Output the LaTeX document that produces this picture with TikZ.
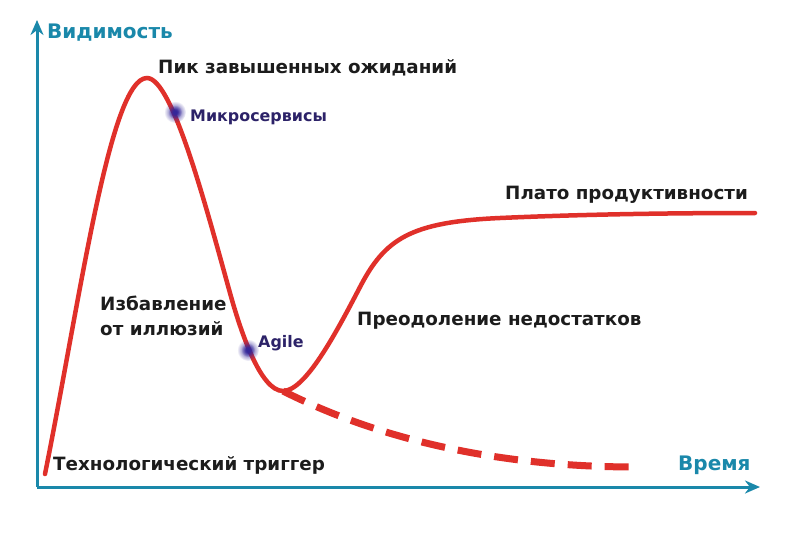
\documentclass[tikz,border=0pt]{standalone}
\usepackage{fontspec}
\setmainfont{DejaVu Sans}
\usetikzlibrary{arrows.meta,fadings}
\definecolor{axisc}{HTML}{1A88AA}
\definecolor{curvec}{HTML}{E0302A}
\definecolor{navy}{HTML}{2C2268}
\definecolor{dotc}{HTML}{34279A}
\definecolor{txt}{HTML}{1C1C1C}
\tikzfading[name=softdot, inner color=transparent!0, outer color=transparent!100]
\tikzset{
  axis/.style={axisc, line width=3pt, -{Stealth[length=15pt,width=13pt]}},
  axlabel/.style={text=axisc, font=\bfseries\fontsize{20}{24}\selectfont, inner sep=0pt},
  phase/.style={text=txt, font=\bfseries\fontsize{18.3}{25}\selectfont, inner sep=0pt},
  tech/.style={text=navy, font=\bfseries\fontsize{15.9}{18}\selectfont, inner sep=0pt},
  hype/.style={curvec, line width=4.5pt, line cap=round},
  fall/.style={curvec, line width=7pt, dash pattern=on 24pt off 13pt},
  blob/.style={fill=dotc, path fading=softdot}
}
\begin{document}
\begin{tikzpicture}[x=1pt,y=-1pt]
\useasboundingbox (0,0) rectangle (800,533);
\fill[white] (0,0) rectangle (800,533);
% axes
\coordinate (o) at (37,487);
\coordinate (ytop) at (37,20);
\coordinate (xend) at (760,487);
\draw[axis] (o) -- (ytop);
\draw[axis] (o) -- (xend);
\node[axlabel, anchor=west] (ylab) at (47,33) {Видимость};
\node[axlabel, anchor=west] (xlab) at (678,465) {Время};
% key points of the curve
\coordinate (start) at (45,474);
\coordinate (peak-pt) at (147,78);
\coordinate (fallmid) at (230,293);
\coordinate (bottom) at (283,391);
\coordinate (rise) at (360,287);
\coordinate (knee) at (500,218);
\coordinate (end) at (755,213);
\coordinate (dashend) at (636,467);
% dashed failure branch
\draw[fall] (bottom) .. controls (380,440) and (500,467) .. (dashend);
% hype curve
\draw[hype] (start) .. controls (80,300) and (110,78) .. (peak-pt)
  .. controls (172,78) and (205,203) .. (fallmid)
  .. controls (240,329) and (260,391) .. (bottom)
  .. controls (305,391) and (335,335) .. (rise)
  .. controls (385,239) and (410,222) .. (knee)
  .. controls (590,214) and (680,213) .. (end);
% technology dots
\foreach \r in {11,7,4} {
  \fill[blob] (175,112) circle (\r);
  \fill[blob] (248,350) circle (\r);
}
% labels
\node[phase, anchor=west] (peak) at (158,68) {Пик завышенных ожиданий};
\node[tech, anchor=west] (micro) at (190,117) {Микросервисы};
\node[phase, anchor=west] (plateau) at (505,195) {Плато продуктивности};
\node[phase, anchor=west] (slope) at (357,321) {Преодоление недостатков};
\node[phase, anchor=west, align=left] (trough) at (100,316) {Избавление\\от иллюзий};
\node[tech, anchor=west] (agile) at (258,343) {Agile};
\node[phase, anchor=west] (trigger) at (53,465) {Технологический триггер};
\end{tikzpicture}
\end{document}
